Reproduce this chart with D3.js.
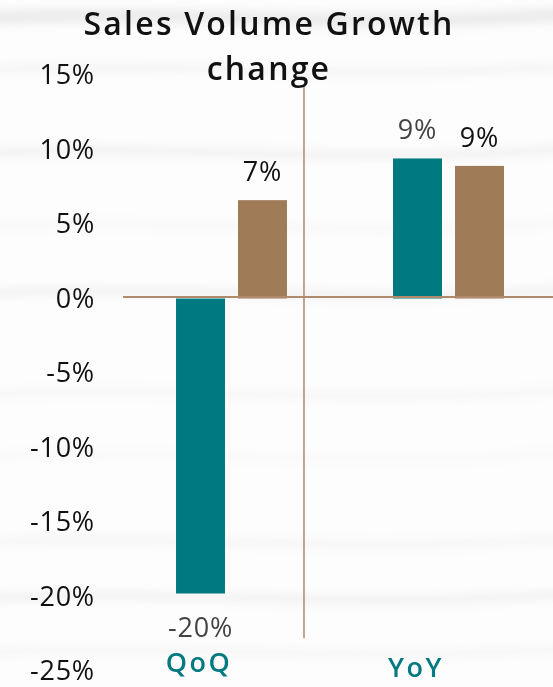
<!DOCTYPE html>
<html>
<head>
<meta charset="utf-8">
<script src="https://cdn.jsdelivr.net/npm/d3@7"></script>
<style>
  body { margin: 0; background: #fdfdfd; }
  svg { display: block; font-family: "Open Sans", "Noto Sans", sans-serif; }
</style>
</head>
<body>
<div class="svg-container"></div>
<script>
/* DATA */
const categories = ["QoQ", "YoY"];
const series = ["teal", "brown"];
const tealValues = [-19.8, 9.4];
const brownValues = [6.6, 8.9];
const yTicks = [15, 10, 5, 0, -5, -10, -15, -20, -25];

const width = 553, height = 687;
const colors = { teal: "#007a80", brown: "#a07b58" };

const svg = d3.select(".svg-container").append("svg")
  .attr("width", width).attr("height", height);

// soft wavy background streaks
const defs = svg.append("defs");
defs.append("filter").attr("id", "blur")
  .attr("x", "-20%").attr("y", "-200%").attr("width", "140%").attr("height", "500%")
  .append("feGaussianBlur").attr("stdDeviation", 5);
const streaks = [[12, 14, 0.07], [68, 6, 0.05], [150, 8, 0.05], [225, 5, 0.04], [290, 8, 0.05],
                 [392, 6, 0.04], [455, 5, 0.03], [540, 7, 0.04], [595, 8, 0.05], [650, 6, 0.04]];
svg.append("g").attr("filter", "url(#blur)")
  .selectAll("path").data(streaks).join("path")
  .attr("d", d => `M-20,${d[0]} C150,${d[0] - 12} 350,${d[0] + 12} 580,${d[0] - 6} L580,${d[0] - 6 + d[1]} C350,${d[0] + 12 + d[1]} 150,${d[0] - 12 + d[1]} -20,${d[0] + d[1]} Z`)
  .attr("fill", "#000").attr("opacity", d => d[2]);

/* SCALES */
const y = d3.scaleLinear().domain([-25, 15]).range([671, 75]);
const x = d3.scaleBand().domain(categories).range([123, 557]);
const xs = d3.scaleBand().domain(series).range([0, x.bandwidth()])
  .paddingInner(0.21).paddingOuter(0.855);

const rows = [];
categories.forEach((c, i) => {
  rows.push({ cat: c, s: "teal", v: tealValues[i] });
  rows.push({ cat: c, s: "brown", v: brownValues[i] });
});

// y tick labels
svg.append("g").selectAll("text").data(yTicks).join("text")
  .attr("x", 95).attr("y", d => y(d)).attr("dy", "0.34em")
  .attr("text-anchor", "end").attr("font-size", 27).attr("letter-spacing", 0.8)
  .attr("fill", "#111")
  .text(d => d + "%");

// separator line
svg.append("line")
  .attr("x1", x("QoQ") + x.bandwidth() * 0.834).attr("x2", x("QoQ") + x.bandwidth() * 0.834)
  .attr("y1", y(14.3)).attr("y2", y(-22.8))
  .attr("stroke", "#b08a6a").attr("stroke-width", 1.5);

// bars
svg.append("g").selectAll("rect").data(rows).join("rect")
  .attr("x", d => x(d.cat) + xs(d.s))
  .attr("width", xs.bandwidth())
  .attr("y", d => y(Math.max(0, d.v)))
  .attr("height", d => Math.abs(y(d.v) - y(0)))
  .attr("fill", d => colors[d.s]);

// zero line
svg.append("line")
  .attr("x1", x.range()[0]).attr("x2", width)
  .attr("y1", y(0) - 1.5).attr("y2", y(0) - 1.5)
  .attr("stroke", "#b08a6a").attr("stroke-width", 2);

// value labels
svg.append("g").selectAll("text").data(rows).join("text")
  .attr("x", d => x(d.cat) + xs(d.s) + xs.bandwidth() / 2)
  .attr("y", d => d.v < 0 ? y(d.v) + 43 : y(d.v) - 19)
  .attr("text-anchor", "middle").attr("font-size", 27).attr("letter-spacing", 0.8)
  .attr("fill", d => (d.v < 0 || (d.cat === "YoY" && d.s === "teal")) ? "#444" : "#111")
  .text(d => Math.round(d.v) + "%");

// category labels
svg.append("g").selectAll("text").data(categories).join("text")
  .attr("x", d => x(d) + x.bandwidth() * 0.35)
  .attr("y", (d, i) => i === 0 ? 672 : 677)
  .attr("text-anchor", "middle").attr("font-size", 27).attr("font-weight", 600)
  .attr("letter-spacing", 2.5).attr("fill", colors.teal)
  .text(d => d);

// title
const title = svg.append("text").attr("text-anchor", "middle")
  .attr("font-size", 32).attr("font-weight", 600).attr("letter-spacing", 2.2)
  .attr("fill", "#111");
title.append("tspan").attr("x", 269).attr("y", 35).text("Sales Volume Growth");
title.append("tspan").attr("x", 269).attr("y", 80).text("change");
</script>
</body>
</html>
